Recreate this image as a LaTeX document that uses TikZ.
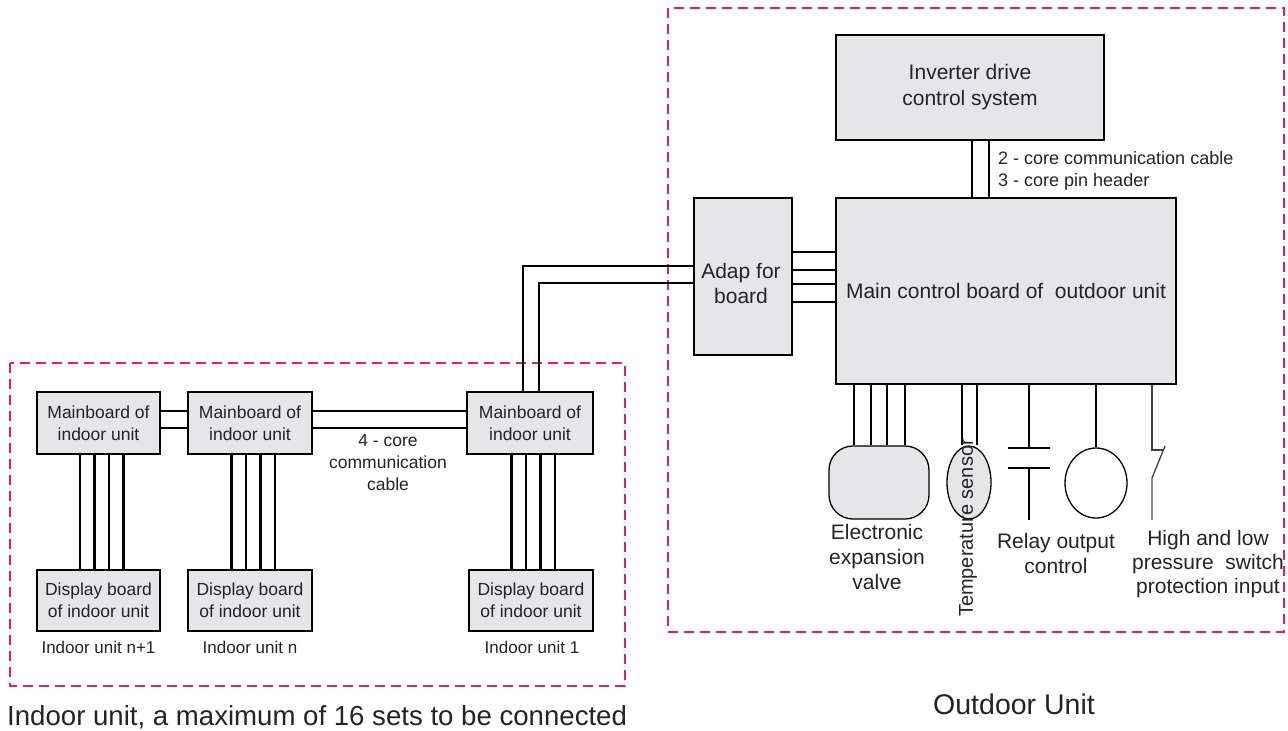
\documentclass[tikz,border=0pt]{standalone}
\usepackage{fontspec}
\setmainfont{Liberation Sans}
\usetikzlibrary{calc,shapes.geometric}
\definecolor{boxfill}{RGB}{230,230,232}
\definecolor{dashcol}{RGB}{226,32,98}
\definecolor{txt}{RGB}{35,35,40}
\newcommand{\fsz}[2]{\fontsize{#1}{#2}\selectfont}
\tikzset{
  wire/.style={line width=2.3pt, black},
  thinwire/.style={line width=1.3pt, black!75},
  box/.style={draw, line width=2.3pt, fill=boxfill, align=center, inner sep=0pt, text=txt},
  obox/.style={box, font=\fsz{21}{26}},
  ibox/.style={box, font=\fsz{17.5}{22}, minimum height=62pt},
  lbl/.style={align=center, text=txt, inner sep=0pt},
  region/.style={draw=dashcol, line width=2pt, dash pattern=on 10pt off 6pt},
}
\begin{document}
\begin{tikzpicture}[x=1pt,y=-1pt]
\useasboundingbox (0,0) rectangle (1288,731);
% dashed regions
\draw[region] (668,8) rectangle (1284,632);
\draw[region] (10,363) rectangle (625,686);

% outdoor boxes
\node[obox, minimum width=268pt, minimum height=105pt] (inv) at (970,87.5) {Inverter drive\\control system};
\node[obox, minimum width=340pt, minimum height=186pt] (main) at (1006,291) {Main control board of\ \ outdoor unit};
\node[obox, minimum width=98pt, minimum height=157pt] (adap) at (743,276.5) {};
\node[lbl, font=\fsz{21}{25}] (adaptxt) at (741,283) {Adap for\\board};

% inverter to main
\foreach \dx in {2,19}
  \draw[wire] ([xshift=\dx pt]inv.south) -- ([xshift=\dx pt]inv.south |- main.north);
\node[lbl, anchor=west, font=\fsz{18}{22}, align=left] (cablelbl) at (998,171) {2 - core communication cable\\3 - core pin header};

% adapter to main
\foreach \dy in {24.5,6.5,-7.5,-25.5}
  \draw[wire] ([yshift=\dy pt]adap.east) -- ([yshift=\dy pt]adap.east -| main.west);

% indoor boxes
\node[ibox, minimum width=123pt] (mbA) at (98.5,423) {Mainboard of\\indoor unit};
\node[ibox, minimum width=124pt] (mbB) at (250,423) {Mainboard of\\indoor unit};
\node[ibox, minimum width=126pt] (mbC) at (530,423) {Mainboard of\\indoor unit};
\node[ibox, minimum width=123pt, minimum height=61pt] (dbA) at (98.5,600.5) {Display board\\of indoor unit};
\node[ibox, minimum width=124pt, minimum height=61pt] (dbB) at (250,600.5) {Display board\\of indoor unit};
\node[ibox, minimum width=124pt, minimum height=61pt] (dbC) at (531,600.5) {Display board\\of indoor unit};

% adapter to indoor unit 1
\draw[wire] ([yshift=10.5pt]adap.west) -| ([xshift=-7pt]mbC.north);
\draw[wire] ([yshift=-6.5pt]adap.west) -| ([xshift=9pt]mbC.north);

% mainboard interconnects
\foreach \dy in {12,-5}{
  \draw[wire] ([yshift=\dy pt]mbA.east) -- ([yshift=\dy pt]mbB.west);
  \draw[wire] ([yshift=\dy pt]mbB.east) -- ([yshift=\dy pt]mbC.west);
}
% mainboard to display
\foreach \m/\d in {mbA/dbA,mbB/dbB,mbC/dbC}
  \foreach \dx in {-18.5,-4,10.5,25}
    \draw[wire] ([xshift=\dx pt]\m.south) -- ([xshift=\dx pt]\m.south |- \d.north);

\node[lbl, font=\fsz{17.5}{22}] (fourcore) at (388,463) {4 - core\\communication\\cable};
\node[lbl, font=\fsz{17}{20}] (iuA) at (98.5,647) {Indoor unit n+1};
\node[lbl, font=\fsz{17}{20}] (iuB) at (250,647) {Indoor unit n};
\node[lbl, font=\fsz{17}{20}] (iuC) at (532,647) {Indoor unit 1};

% outdoor components
\node[draw, line width=1.3pt, fill=boxfill, rounded corners=24pt, minimum width=100pt, minimum height=73pt, inner sep=0pt] (eev) at (879,482.5) {};
\foreach \dx in {-25,-8,8,26}
  \draw[wire] ([xshift=\dx pt]eev.north |- main.south) -- ([xshift=\dx pt]eev.north);
\node[lbl, font=\fsz{21}{25}] (eevlbl) at (877,557) {Electronic\\expansion\\valve};

\node[draw, line width=1.3pt, fill=boxfill, ellipse, minimum width=44pt, minimum height=73pt, inner sep=0pt] (sens) at (969,482.5) {};
\foreach \dx in {-7,8}
  \draw[wire] ([xshift=\dx pt]sens.north |- main.south) -- ([xshift=\dx pt]sens.north);
\node[lbl, font=\fsz{20}{24}, rotate=90] (senslbl) at (968,528) {Temperature sensor};

\coordinate (rtop) at (1029,448);
\coordinate (rbot) at (1029,468);
\draw[wire] (rtop |- main.south) -- (rtop);
\draw[wire] ([xshift=-21pt]rtop) -- ([xshift=21pt]rtop);
\draw[wire] ([xshift=-21pt]rbot) -- ([xshift=21pt]rbot);
\draw[wire] (rbot) -- ++(0,52);
\node[lbl, font=\fsz{21}{25}] (relaylbl) at (1056,553) {Relay output\\control};

\node[draw, line width=1.3pt, ellipse, minimum width=62pt, minimum height=70pt, inner sep=0pt] (coil) at (1096,483) {};
\draw[wire] (coil.north |- main.south) -- (coil.north);

\coordinate (swtop) at (1152,450);
\coordinate (swbot) at (1152,478);
\draw[thinwire] (swtop |- main.south) -- (swtop) -- ++(11,0);
\draw[thinwire] (swbot) -- ++(13,-32);
\draw[thinwire, black!45] (swbot) -- ++(0,42);
\node[lbl, font=\fsz{21}{24}] (swlbl) at (1208,564) {High and low\\pressure\ \ switch\\protection input};

% region titles
\node[lbl, anchor=west, font=\fsz{27.6}{30}] (indoortitle) at (7,717) {Indoor unit, a maximum of 16 sets to be connected};
\node[lbl, font=\fsz{28.5}{30}] (outdoortitle) at (1014,704) {Outdoor Unit};
\end{tikzpicture}
\end{document}
